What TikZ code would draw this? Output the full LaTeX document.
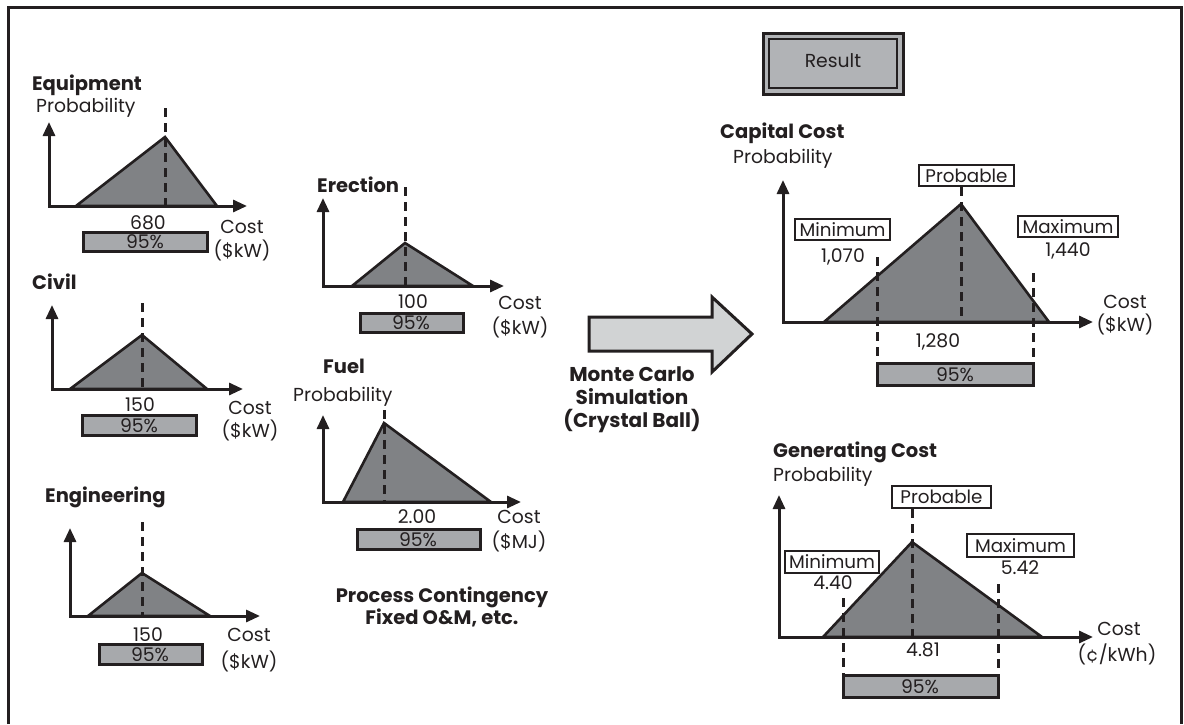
\documentclass[tikz,border=0pt]{standalone}
\usepackage{fontspec}
\setmainfont{Poppins}
\usetikzlibrary{arrows.meta}
\definecolor{ink}{HTML}{231F20}
\definecolor{trigray}{HTML}{808285}
\definecolor{bargray}{HTML}{A7A9AC}
\definecolor{resgray}{HTML}{B1B3B6}
\definecolor{arrgray}{HTML}{D1D3D4}
\tikzset{
  every node/.style={text=ink, inner sep=0pt},
  txt/.style={font=\fontsize{18.8}{21}\selectfont},
  ttl/.style={font=\bfseries\fontsize{19.5}{22}\selectfont},
  axis/.style={draw=ink, line width=3pt, line join=miter,
    {Triangle[length=14pt,width=12pt]}-{Triangle[length=14pt,width=12pt]}},
  tri/.style={draw=ink, fill=trigray, line width=2.6pt, line join=miter},
  dsh/.style={draw=ink, line width=3pt, dash pattern=on 9pt off 6pt},
  barbox/.style={draw=ink, fill=bargray, line width=3pt},
  tag/.style={draw=ink, fill=white, line width=2.4pt, inner sep=0pt,
    font=\fontsize{18.3}{20}\selectfont},
  frame/.style={draw=ink, line width=3pt},
}
\begin{document}
\begin{tikzpicture}[x=1pt,y=-1pt]
\useasboundingbox (0,0) rectangle (1184,724);
% frame
\coordinate (f1) at (8,724); \coordinate (f2) at (8,7);
\coordinate (f3) at (1181,7); \coordinate (f4) at (1181,724);
\draw[frame] (f1) -- (f2) -- (f3) -- (f4);

% ---------- Equipment ----------
\node[ttl, anchor=west] (eqT) at (32,85) {Equipment};
\node[txt, anchor=west] (eqP) at (36,108) {Probability};
\coordinate (eqO) at (49,206); \coordinate (eqY) at (49,122); \coordinate (eqX) at (247,206);
\coordinate (eqA) at (76,206); \coordinate (eqB) at (165,137); \coordinate (eqC) at (217,206);
\coordinate (eqD) at (165,108);
\draw[tri] (eqA) -- (eqB) -- (eqC) -- cycle;
\draw[dsh] (eqD) -- (eqB |- eqO);
\draw[axis] (eqY) -- (eqO) -- (eqX);
\node[txt] (eqV) at (148,223) {680};
\draw[barbox] (83,232) rectangle (207,251);
\node[txt] (eqPct) at (145,242) {95\%};
\node[txt] (eqC1) at (242,227) {Cost};
\node[txt] (eqC2) at (242,250) {(\$kW)};

% ---------- Civil ----------
\node[ttl, anchor=west] (cvT) at (32,282) {Civil};
\coordinate (cvO) at (52,389); \coordinate (cvY) at (52,305); \coordinate (cvX) at (243,389);
\coordinate (cvA) at (70,389); \coordinate (cvB) at (142,335); \coordinate (cvC) at (207,389);
\coordinate (cvD) at (142,303);
\draw[tri] (cvA) -- (cvB) -- (cvC) -- cycle;
\draw[dsh] (cvD) -- (cvB |- cvO);
\draw[axis] (cvY) -- (cvO) -- (cvX);
\node[txt] (cvV) at (140,405) {150};
\draw[barbox] (82,415) rectangle (196,435);
\node[txt] (cvPct) at (139,426) {95\%};
\node[txt] (cvC1) at (250,408) {Cost};
\node[txt] (cvC2) at (250,430) {(\$kW)};

% ---------- Engineering ----------
\node[ttl, anchor=west] (enT) at (45,497) {Engineering};
\coordinate (enO) at (70,616); \coordinate (enY) at (70,528); \coordinate (enX) at (260,616);
\coordinate (enA) at (88,616); \coordinate (enB) at (142,573); \coordinate (enC) at (210,616);
\coordinate (enD) at (142,522);
\draw[tri] (enA) -- (enB) -- (enC) -- cycle;
\draw[dsh] (enD) -- (enB |- enO);
\draw[axis] (enY) -- (enO) -- (enX);
\node[txt] (enV) at (148,635) {150};
\draw[barbox] (99,644) rectangle (202,664);
\node[txt] (enPct) at (150,655) {95\%};
\node[txt] (enC1) at (249,635) {Cost};
\node[txt] (enC2) at (249,661) {(\$kW)};

% ---------- Erection ----------
\node[ttl, anchor=west] (erT) at (317,185) {Erection};
\coordinate (erO) at (323,286); \coordinate (erY) at (323,198); \coordinate (erX) at (504,286);
\coordinate (erA) at (352,286); \coordinate (erB) at (405,243); \coordinate (erC) at (473,286);
\coordinate (erD) at (405,187);
\draw[tri] (erA) -- (erB) -- (erC) -- cycle;
\draw[dsh] (erD) -- (erB |- erO);
\draw[axis] (erY) -- (erO) -- (erX);
\node[txt] (erV) at (413,302) {100};
\draw[barbox] (360,313) rectangle (463,332);
\node[txt] (erPct) at (411,323) {95\%};
\node[txt] (erC1) at (520,303) {Cost};
\node[txt] (erC2) at (520,327) {(\$kW)};

% ---------- Fuel ----------
\node[ttl, anchor=west] (fuT) at (323,366) {Fuel};
\node[txt, anchor=west] (fuP) at (293,397) {Probability};
\coordinate (fuO) at (323,502); \coordinate (fuY) at (323,415); \coordinate (fuX) at (521,502);
\coordinate (fuA) at (343,502); \coordinate (fuB) at (384,423); \coordinate (fuC) at (491,502);
\coordinate (fuD) at (384,410);
\draw[tri] (fuA) -- (fuB) -- (fuC) -- cycle;
\draw[dsh] (fuD) -- (fuB |- fuO);
\draw[axis] (fuY) -- (fuO) -- (fuX);
\node[txt] (fuV) at (417,517) {2.00};
\draw[barbox] (357,529) rectangle (480,549);
\node[txt] (fuPct) at (418,540) {95\%};
\node[txt] (fuC1) at (519,517) {Cost};
\node[txt] (fuC2) at (519,541) {(\$MJ)};
\node[ttl, align=center, font=\bfseries\fontsize{19.5}{22}\selectfont] (proc) at (442,607) {Process Contingency\\Fixed O\&M, etc.};

% ---------- Monte Carlo arrow ----------
\draw[draw=ink, fill=arrgray, line width=3pt, line join=miter]
  (589,317) -- (712,317) -- (712,297) -- (752,334) -- (712,372) -- (712,351) -- (589,351) -- cycle;
\node[ttl, align=center, font=\bfseries\fontsize{20}{23}\selectfont] (mc) at (632,400)
  {Monte Carlo\\Simulation\\(Crystal Ball)};

% ---------- Result ----------
\draw[draw=ink, fill=resgray, line width=3pt] (763,33) rectangle (903,94);
\draw[draw=ink, line width=2.4pt] (769,39) rectangle (897,88);
\node[txt] (res) at (833,61) {Result};

% ---------- Capital Cost ----------
\node[ttl, anchor=west] (ccT) at (720,133) {Capital Cost};
\node[txt, anchor=west] (ccP) at (733,159) {Probability};
\coordinate (ccO) at (783,322); \coordinate (ccY) at (783,180); \coordinate (ccX) at (1093,322);
\coordinate (ccA) at (824,322); \coordinate (ccB) at (961,204); \coordinate (ccC) at (1049,322);
\draw[tri] (ccA) -- (ccB) -- (ccC) -- cycle;
\node[tag, minimum width=95pt, minimum height=21pt] (ccPr) at (966.5,175.5) {Probable};
\node[tag, minimum width=95pt, minimum height=21pt] (ccMin) at (842.5,229.5) {Minimum};
\node[tag, minimum width=100pt, minimum height=21pt] (ccMax) at (1068,226.5) {Maximum};
\node[txt] (ccMinV) at (843,257) {1,070};
\node[txt] (ccMaxV) at (1068,251) {1,440};
\coordinate (ccL) at (877,257); \coordinate (ccR) at (1033,273);
\coordinate (ccLb) at (877,385); \coordinate (ccRb) at (1033,385);
\draw[barbox] (877,363) rectangle (1033,385);
\draw[dsh] (ccPr.south -| ccB) -- (ccB |- ccO);
\draw[dsh] (ccL) -- (ccLb);
\draw[dsh] (ccR) -- (ccRb);
\draw[axis] (ccY) -- (ccO) -- (ccX);
\node[txt] (ccV) at (938,342) {1,280};
\node[txt] (ccPct) at (955,375) {95\%};
\node[txt] (ccC1) at (1125,302) {Cost};
\node[txt] (ccC2) at (1125,324) {(\$kW)};

% ---------- Generating Cost ----------
\node[ttl, anchor=west] (gcT) at (773,452) {Generating Cost};
\node[txt, anchor=west] (gcP) at (773,477) {Probability};
\coordinate (gcO) at (779,637); \coordinate (gcY) at (779,495); \coordinate (gcX) at (1093,637);
\coordinate (gcA) at (823,637); \coordinate (gcB) at (912,542); \coordinate (gcC) at (1042,637);
\draw[tri] (gcA) -- (gcB) -- (gcC) -- cycle;
\node[tag, minimum width=99pt, minimum height=22pt] (gcPr) at (941.5,497) {Probable};
\node[tag, minimum width=94pt, minimum height=22pt] (gcMin) at (832,562) {Minimum};
\node[tag, minimum width=107pt, minimum height=23pt] (gcMax) at (1020.5,545.5) {Maximum};
\node[txt] (gcMinV) at (833,583) {4.40};
\node[txt] (gcMaxV) at (1020,568) {5.42};
\coordinate (gcL) at (843,598); \coordinate (gcR) at (998,584);
\coordinate (gcLb) at (843,697); \coordinate (gcRb) at (998,697);
\draw[barbox] (843,675) rectangle (998,697);
\draw[dsh] (gcPr.south -| gcB) -- (gcB |- gcO);
\draw[dsh] (gcL) -- (gcLb);
\draw[dsh] (gcR) -- (gcRb);
\draw[axis] (gcY) -- (gcO) -- (gcX);
\node[txt] (gcV) at (923,650) {4.81};
\node[txt] (gcPct) at (920,687) {95\%};
\node[txt] (gcC1) at (1119,629) {Cost};
\node[txt] (gcC2) at (1117,654) {(¢/kWh)};
\end{tikzpicture}
\end{document}
